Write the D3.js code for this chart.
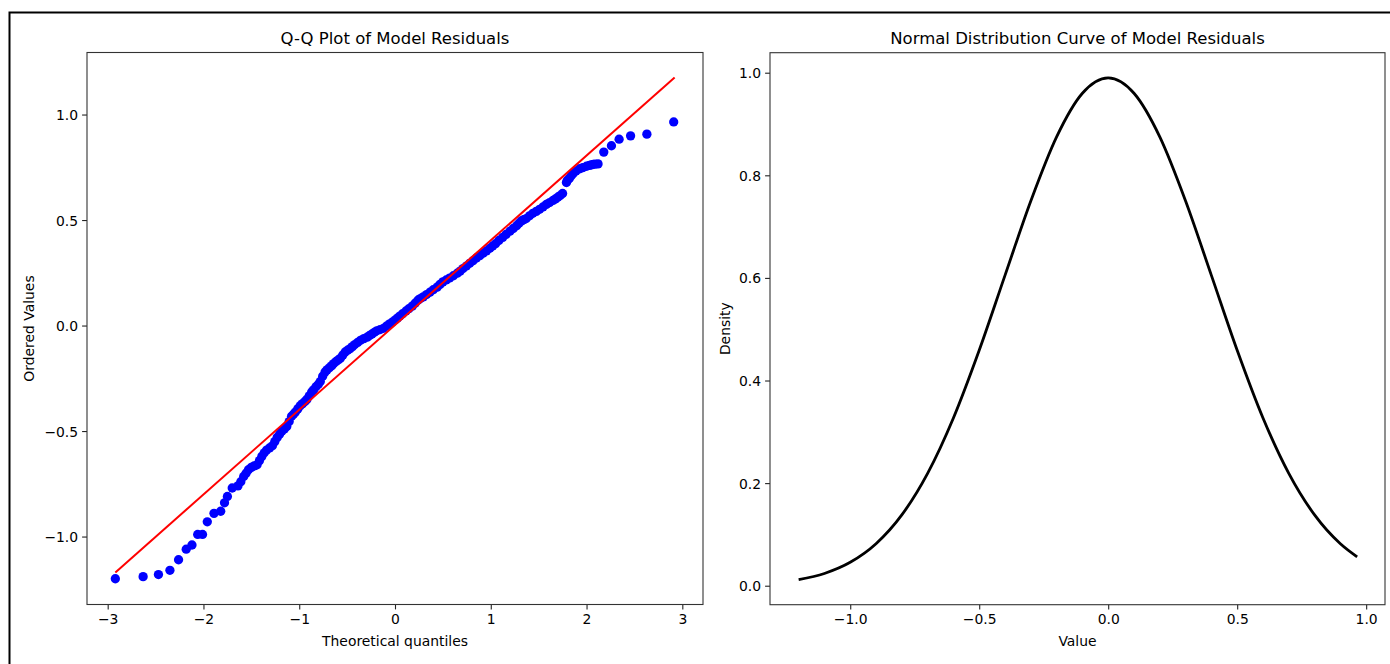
<!DOCTYPE html>
<html>
<head>
<meta charset="utf-8">
<script src="https://cdn.jsdelivr.net/npm/d3@7/dist/d3.min.js"></script>
<style>
  html, body { margin: 0; padding: 0; background: #fff; }
  svg { display: block; }
  text { font-family: "DejaVu Sans", sans-serif; fill: #000; }
</style>
</head>
<body>
<svg id="chart" width="1390" height="664"></svg>
<script>
// ---- Data ----
const theoreticalQuantiles = [
  -2.92, -2.63, -2.47, -2.35, -2.26, -2.18, -2.12, -2.06, -2.01, -1.96,
  -1.89, -1.82, -1.78, -1.75, -1.70, -1.64, -1.61, -1.58, -1.555, -1.53,
  -1.50, -1.47, -1.44, -1.415, -1.39, -1.365, -1.34, -1.31, -1.28, -1.255,
  -1.23, -1.205, -1.18, -1.155, -1.13, -1.105, -1.08, -1.06, -1.04, -1.015,
  -0.99, -0.965, -0.94, -0.92, -0.895, -0.87, -0.85, -0.825, -0.80, -0.78,
  -0.755, -0.73, -0.71, -0.685, -0.66, -0.64, -0.615, -0.59, -0.57, -0.545,
  -0.52, -0.495, -0.47, -0.445, -0.42, -0.39, -0.36, -0.325, -0.29, -0.265,
  -0.24, -0.215, -0.19, -0.155, -0.12, -0.09, -0.06, -0.03, 0.00, 0.025,
  0.05, 0.08, 0.115, 0.145, 0.18, 0.21, 0.24, 0.265, 0.295, 0.33,
  0.365, 0.40, 0.44, 0.47, 0.50, 0.535, 0.57, 0.61, 0.65, 0.68,
  0.71, 0.745, 0.78, 0.815, 0.85, 0.885, 0.92, 0.955, 0.99, 1.02,
  1.05, 1.085, 1.125, 1.16, 1.20, 1.235, 1.27, 1.295, 1.32, 1.345,
  1.37, 1.405, 1.44, 1.475, 1.51, 1.545, 1.58, 1.615, 1.65, 1.675,
  1.70, 1.725, 1.75, 1.79, 1.80, 1.82, 1.84, 1.86, 1.89, 1.93,
  1.96, 2.00, 2.03, 2.05, 2.07, 2.09, 2.12, 2.18, 2.26, 2.34,
  2.46, 2.63, 2.91
];
const orderedValues = [
  -1.20, -1.19, -1.18, -1.16, -1.11, -1.06, -1.04, -0.99, -0.99, -0.93,
  -0.89, -0.88, -0.84, -0.81, -0.77, -0.76, -0.74, -0.715, -0.70, -0.683,
  -0.672, -0.665, -0.66, -0.64, -0.62, -0.603, -0.59, -0.58, -0.57, -0.55,
  -0.53, -0.515, -0.50, -0.49, -0.478, -0.455, -0.43, -0.42, -0.41, -0.395,
  -0.38, -0.37, -0.36, -0.35, -0.333, -0.315, -0.305, -0.29, -0.278, -0.265,
  -0.24, -0.22, -0.21, -0.20, -0.19, -0.18, -0.17, -0.162, -0.155, -0.14,
  -0.125, -0.117, -0.11, -0.10, -0.09, -0.08, -0.07, -0.062, -0.055, -0.047,
  -0.04, -0.032, -0.025, -0.019, -0.013, -0.003, 0.007, 0.016, 0.026, 0.035,
  0.045, 0.056, 0.069, 0.08, 0.092, 0.106, 0.12, 0.128, 0.136, 0.147,
  0.158, 0.17, 0.182, 0.195, 0.207, 0.216, 0.225, 0.236, 0.248, 0.258,
  0.27, 0.282, 0.295, 0.307, 0.32, 0.331, 0.343, 0.354, 0.366, 0.377,
  0.388, 0.403, 0.418, 0.432, 0.447, 0.46, 0.473, 0.485, 0.496, 0.502,
  0.507, 0.52, 0.532, 0.541, 0.551, 0.562, 0.574, 0.583, 0.593, 0.60,
  0.608, 0.616, 0.626, 0.678, 0.688, 0.697, 0.71, 0.721, 0.733, 0.743,
  0.748, 0.755, 0.759, 0.761, 0.764, 0.765, 0.766, 0.822, 0.852, 0.883,
  0.899, 0.907, 0.965
];
// fitted reference line end points (theoretical, ordered)
const fitLineX = [-2.92, 2.92];
const fitLineY = [-1.17, 1.175];

// density curve sampled from the right panel
const densityX = [-1.20, -1.10, -1.00, -0.90, -0.80, -0.70, -0.60, -0.50, -0.40, -0.30,
  -0.20, -0.10, 0.00, 0.10, 0.20, 0.30, 0.40, 0.50, 0.60, 0.70, 0.80, 0.90, 0.965];
const densityY = [0.0118, 0.0239, 0.0456, 0.0818, 0.138, 0.219, 0.327, 0.459, 0.605, 0.750,
  0.875, 0.960, 0.990, 0.960, 0.875, 0.750, 0.605, 0.459, 0.327, 0.219, 0.138, 0.0818, 0.0563];

const qqXTicks = [-3, -2, -1, 0, 1, 2, 3];
const qqYTicks = [-1.0, -0.5, 0.0, 0.5, 1.0];
const denXTicks = [-1.0, -0.5, 0.0, 0.5, 1.0];
const denYTicks = [0.0, 0.2, 0.4, 0.6, 0.8, 1.0];

const titles = ["Q-Q Plot of Model Residuals", "Normal Distribution Curve of Model Residuals"];
const xLabels = ["Theoretical quantiles", "Value"];
const yLabels = ["Ordered Values", "Density"];

// ---- Drawing ----
const svg = d3.select("#chart");
const minus = s => s.replace("-", "\u2212");

// outer frame
svg.append("rect").attr("x", 9.5).attr("y", 12.5).attr("width", 1420).attr("height", 700)
  .attr("fill", "none").attr("stroke", "#000").attr("stroke-width", 2);

function panel(box, xDomain, yDomain, xTicks, yTicks, xFmt, yFmt, title, xLab, yLab, yLabX) {
  const x = d3.scaleLinear().domain(xDomain).range([box.l, box.r]);
  const y = d3.scaleLinear().domain(yDomain).range([box.b, box.t]);
  const g = svg.append("g");
  const clipId = "clip" + Math.round(box.l);
  svg.append("clipPath").attr("id", clipId).append("rect")
    .attr("x", box.l).attr("y", box.t).attr("width", box.r - box.l).attr("height", box.b - box.t);
  const plot = g.append("g").attr("clip-path", `url(#${clipId})`);

  const xAxis = g.append("g").attr("transform", `translate(0,${box.b})`)
    .call(d3.axisBottom(x).tickValues(xTicks).tickFormat(d => minus(xFmt(d))).tickSizeOuter(0).tickSize(4.9).tickPadding(4));
  const yAxis = g.append("g").attr("transform", `translate(${box.l},0)`)
    .call(d3.axisLeft(y).tickValues(yTicks).tickFormat(d => minus(yFmt(d))).tickSizeOuter(0).tickSize(4.9).tickPadding(4));
  [xAxis, yAxis].forEach(a => {
    a.select(".domain").remove();
    a.selectAll(".tick line").attr("stroke", "#222").attr("stroke-width", 1.1);
    a.selectAll(".tick text").attr("font-size", 13.9).attr("font-family", "DejaVu Sans").attr("fill", "#000");
  });
  xAxis.selectAll(".tick text").attr("dy", "0.78em");
  yAxis.selectAll(".tick text").attr("dy", "0.36em");

  g.append("rect").attr("x", box.l).attr("y", box.t).attr("width", box.r - box.l).attr("height", box.b - box.t)
    .attr("fill", "none").attr("stroke", "#333").attr("stroke-width", 1.1);

  g.append("text").attr("x", (box.l + box.r) / 2).attr("y", 44).attr("text-anchor", "middle")
    .attr("font-size", 16.5).text(title);
  g.append("text").attr("x", (box.l + box.r) / 2).attr("y", 646).attr("text-anchor", "middle")
    .attr("font-size", 13.9).text(xLab);
  g.append("text").attr("transform", `translate(${yLabX},${(box.t + box.b) / 2}) rotate(-90)`)
    .attr("text-anchor", "middle").attr("font-size", 13.9).text(yLab);
  return {x, y, plot};
}

const fmt1 = d3.format(".1f");
const fmt0 = d3.format("d");

// Left: Q-Q plot
const L = panel({l: 87, r: 703, t: 52.5, b: 604.5}, [-3.216, 3.216], [-1.322, 1.294],
  qqXTicks, qqYTicks, fmt0, fmt1, titles[0], xLabels[0], yLabels[0], 34);
const qqData = theoreticalQuantiles.map((t, i) => ({t, v: orderedValues[i]}));
L.plot.selectAll("circle").data(qqData).enter().append("circle")
  .attr("cx", d => L.x(d.t)).attr("cy", d => L.y(d.v)).attr("r", 4.65).attr("fill", "#0000ff");
L.plot.append("path").datum(fitLineX.map((t, i) => [t, fitLineY[i]]))
  .attr("d", d3.line().x(d => L.x(d[0])).y(d => L.y(d[1])))
  .attr("fill", "none").attr("stroke", "#ff0000").attr("stroke-width", 2);

// Right: density curve
const R = panel({l: 770, r: 1385, t: 52.7, b: 604.7}, [-1.311, 1.073], [-0.037, 1.039],
  denXTicks, denYTicks, fmt1, fmt1, titles[1], xLabels[1], yLabels[1], 730);
R.plot.append("path").datum(densityX.map((v, i) => [v, densityY[i]]))
  .attr("d", d3.line().x(d => R.x(d[0])).y(d => R.y(d[1])).curve(d3.curveMonotoneX))
  .attr("fill", "none").attr("stroke", "#000").attr("stroke-width", 2.8);
</script>
</body>
</html>
